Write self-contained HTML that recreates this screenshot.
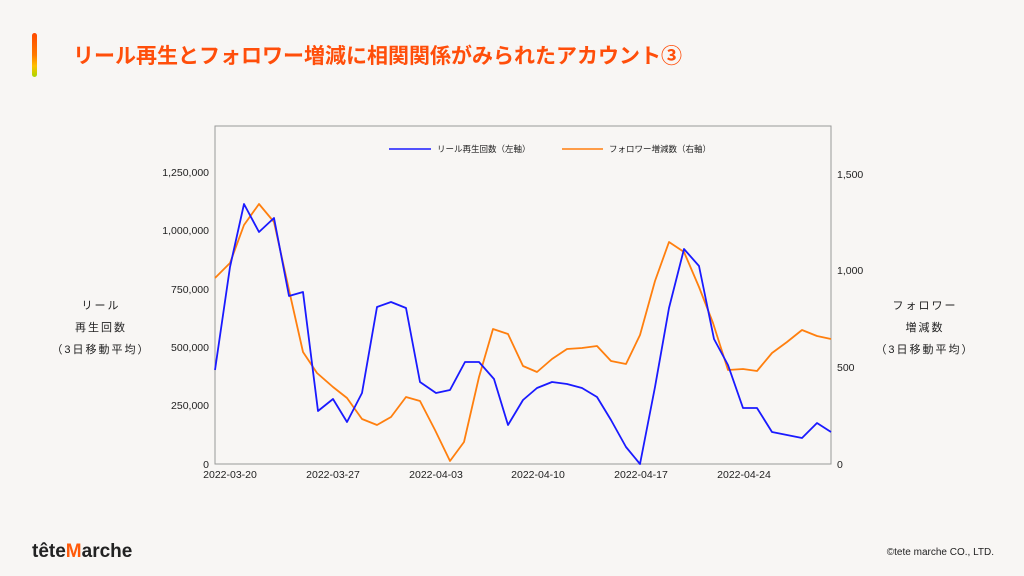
<!DOCTYPE html>
<html><head><meta charset="utf-8"><style>
body{margin:0;width:1024px;height:576px;background:#f8f6f4;overflow:hidden;font-family:"Liberation Sans","Noto Sans CJK JP",sans-serif;}
</style></head><body>
<svg width="1024" height="576" viewBox="0 0 1024 576" xmlns="http://www.w3.org/2000/svg" style="position:absolute;left:0;top:0">
<defs><linearGradient id="g" x1="0" y1="0" x2="0" y2="1"><stop offset="0" stop-color="#ff4a00"/><stop offset="0.5" stop-color="#ff7a00"/><stop offset="0.75" stop-color="#ffc000"/><stop offset="1" stop-color="#a8d800"/></linearGradient></defs>
<rect width="1024" height="576" fill="#f8f6f4"/>
<rect x="32" y="33" width="5" height="44" rx="2.5" fill="url(#g)"/>
<text x="73" y="63" font-size="21" font-weight="bold" fill="#ff4e0a" font-family="Liberation Sans,Noto Sans CJK JP,sans-serif">リール再生とフォロワー増減に相関関係がみられたアカウント③</text>
<rect x="215" y="126" width="616" height="338" fill="#f8f6f4" stroke="#999" stroke-width="1"/>
<g font-size="10.5" fill="#222" font-family="Liberation Sans,sans-serif">
<text x="209" y="176" text-anchor="end">1,250,000</text>
<text x="209" y="234" text-anchor="end">1,000,000</text>
<text x="209" y="293" text-anchor="end">750,000</text>
<text x="209" y="351" text-anchor="end">500,000</text>
<text x="209" y="409" text-anchor="end">250,000</text>
<text x="209" y="468" text-anchor="end">0</text>
<text x="837" y="178">1,500</text>
<text x="837" y="274">1,000</text>
<text x="837" y="371">500</text>
<text x="837" y="468">0</text>
<text x="230" y="478" text-anchor="middle">2022-03-20</text>
<text x="333" y="478" text-anchor="middle">2022-03-27</text>
<text x="436" y="478" text-anchor="middle">2022-04-03</text>
<text x="538" y="478" text-anchor="middle">2022-04-10</text>
<text x="641" y="478" text-anchor="middle">2022-04-17</text>
<text x="744" y="478" text-anchor="middle">2022-04-24</text>
</g>
<g font-size="11" fill="#222" text-anchor="middle" font-family="Liberation Sans,Noto Sans CJK JP,sans-serif" letter-spacing="2">
<text x="101" y="309">リール</text>
<text x="101" y="331">再生回数</text>
<text x="101" y="353">（3日移動平均）</text>
<text x="925" y="309">フォロワー</text>
<text x="925" y="331">増減数</text>
<text x="925" y="353">（3日移動平均）</text>
</g>
<g font-size="8.5" fill="#222" font-family="Liberation Sans,Noto Sans CJK JP,sans-serif">
<line x1="389" y1="149" x2="431" y2="149" stroke="#1a1aff" stroke-width="1.5"/>
<text x="437" y="152">リール再生回数（左軸）</text>
<line x1="562" y1="149" x2="603" y2="149" stroke="#ff7f0e" stroke-width="1.5"/>
<text x="609" y="152">フォロワー増減数（右軸）</text>
</g>
<polyline fill="none" stroke="#ff7f0e" stroke-width="1.8" stroke-linejoin="round" points="215,278 230,263 244,225 259,204 274,222 289,290 303,352 317,373 333,387 347,398 362,419 377,425 391,417 406,397 420,401 435,430 450,461 464,442 479,377 493,329 508,334 523,366 537,372 552,359 567,349 582,348 597,346 611,361 626,364 640,335 655,281 669,242 684,252 699,287 713,323 728,370 743,369 757,371 772,353 787,342 802,330 817,336 831,339"/>
<polyline fill="none" stroke="#1a1aff" stroke-width="1.8" stroke-linejoin="round" points="215,370 230,267 244,204 259,232 274,218 289,296 303,292 318,411 333,399 347,422 362,393 377,307 391,302 406,308 420,382 436,393 450,390 465,362 479,362 494,379 508,425 523,400 537,388 552,382 567,384 582,388 597,397 611,420 626,447 640,464 655,387 669,308 684,249 699,266 714,339 728,365 743,408 757,408 772,432 787,435 802,438 817,423 831,432"/>
<text x="32" y="557" font-size="19" font-weight="bold" fill="#222" font-family="Liberation Sans,sans-serif">tête<tspan fill="#ff5a0a">M</tspan>arche</text>
<text x="994" y="555" font-size="10" fill="#222" text-anchor="end" font-family="Liberation Sans,sans-serif">©tete marche CO., LTD.</text>
</svg>
</body></html>
